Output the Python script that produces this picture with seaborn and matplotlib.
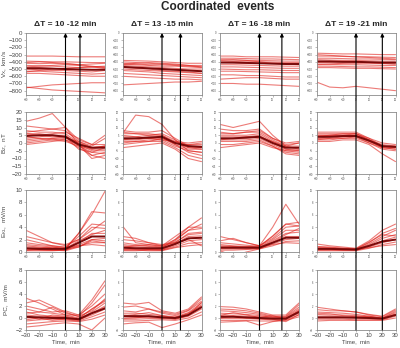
import matplotlib
matplotlib.use("Agg")
import matplotlib.pyplot as plt
import numpy as np
import pandas as pd
import seaborn as sns
from matplotlib.patches import ConnectionPatch

# ---------------- data ----------------
TIME = [-30, -20, -10, 0, 10, 20, 30]
COL_TITLES = ["ΔT = 10 -12 min", "ΔT = 13 -15 min", "ΔT = 16 -18 min", "ΔT = 19 -21 min"]
DT_MARK = [11, 14, 17, 20]
ROW_LABELS = ["V$_X$,  km/s", "B$_Z$,  nT", "E$_{KL}$,  mV/m", "PC,  mV/m"]
ROW_YLIM = [(-860, 0), (-20, 20), (0, 10), (-2, 8)]
ROW_YTICKS = [list(range(0, -801, -100)), list(range(-20, 21, 5)), list(range(0, 11, 2)), list(range(-2, 9, 2))]
XTICKS = [-30, -20, -10, 0, 10, 20, 30]

VX_1 = [[-320,-320,-320,-325,-330,-330,-330],[-390,-395,-400,-400,-405,-410,-410],
        [-420,-425,-420,-430,-440,-430,-420],[-450,-455,-460,-470,-480,-470,-460],
        [-480,-480,-490,-500,-510,-510,-500],[-500,-510,-520,-520,-530,-540,-520],
        [-530,-530,-540,-550,-560,-570,-560],[-560,-560,-570,-580,-590,-600,-600],
        [-410,-400,-410,-420,-440,-460,-480],[-470,-460,-450,-440,-450,-470,-490],
        [-760,-740,-720,-710,-700,-690,-690],[-750,-770,-790,-800,-810,-820,-830],
        [-540,-520,-500,-490,-480,-470,-470]]
VX_1_MEAN = [-490,-490,-495,-500,-505,-510,-510]
VX_2 = [[-380,-385,-390,-400,-410,-420,-420],[-400,-410,-420,-430,-440,-450,-450],
        [-430,-440,-450,-460,-460,-470,-480],[-450,-460,-470,-480,-490,-500,-500],
        [-470,-480,-490,-500,-510,-520,-530],[-500,-510,-520,-530,-540,-550,-560],
        [-520,-530,-540,-560,-570,-580,-590],[-560,-570,-580,-590,-600,-610,-620],
        [-420,-430,-440,-440,-450,-460,-470],[-600,-610,-620,-630,-640,-640,-650],
        [-720,-710,-700,-690,-680,-680,-670],[-440,-420,-410,-420,-430,-450,-470],
        [-480,-490,-500,-520,-530,-540,-560]]
VX_2_MEAN = [-470,-480,-490,-500,-510,-520,-530]
VX_3 = [[-320,-320,-330,-330,-330,-335,-340],[-350,-350,-355,-360,-360,-365,-370],
        [-370,-375,-380,-380,-385,-390,-390],[-390,-395,-400,-400,-405,-410,-410],
        [-410,-415,-420,-420,-425,-430,-430],[-440,-440,-445,-450,-455,-460,-460],
        [-470,-470,-475,-480,-485,-490,-490],[-500,-505,-510,-510,-515,-520,-520],
        [-530,-530,-535,-540,-545,-550,-550],[-580,-580,-590,-590,-600,-610,-610],
        [-640,-630,-620,-620,-630,-640,-640],[-700,-700,-710,-710,-720,-730,-740],
        [-380,-370,-380,-400,-420,-430,-440]]
VX_3_MEAN = [-410,-410,-415,-420,-425,-430,-430]
VX_4 = [[-280,-285,-290,-290,-295,-300,-300],[-320,-320,-325,-330,-330,-335,-340],
        [-350,-350,-355,-360,-360,-365,-370],[-370,-375,-380,-380,-385,-390,-390],
        [-390,-390,-395,-400,-405,-410,-410],[-410,-410,-415,-420,-420,-425,-430],
        [-430,-435,-440,-440,-445,-450,-450],[-460,-460,-465,-470,-470,-475,-480],
        [-480,-480,-485,-490,-490,-495,-500],[-680,-750,-760,-740,-760,-780,-800],
        [-300,-310,-320,-330,-340,-350,-360],[-440,-430,-420,-410,-410,-420,-430]]
VX_4_MEAN = [-395,-395,-400,-400,-405,-410,-410]

BZ_1 = [[14,16,19,10,-1,-8,-6],[11,10,9,8,1,-3,-2],[8,7,7,6,0,-4,-4],[6,6,5,5,-1,-5,-5],
        [5,5,4,4,-2,-6,-3],[3,4,5,4,0,-3,-2],[2,3,3,2,-3,-8,-10],[0,1,2,1,-2,-4,-2],
        [-1,0,1,2,-1,-10,-8],[7,8,9,10,2,-1,5],[4,3,2,3,1,-2,3],[1,2,3,4,-4,-6,-7],
        [6,5,6,7,3,-1,-1]]
BZ_1_MEAN = [4.5,5,5,4,-1,-3,-3]
BZ_2 = [[6,18,17,12,2,-5,-6],[8,7,7,8,3,-2,-3],[6,6,5,6,2,-3,-4],[4,4,5,5,1,-2,-2],
        [3,3,4,4,0,-3,-3],[2,2,3,3,-1,-4,-4],[1,1,2,2,-2,-5,-6],[-1,0,1,1,-3,-8,-10],
        [-3,-2,-1,0,-4,-10,-12],[5,4,3,2,1,0,1],[0,1,1,3,0,-1,-1],[2,3,3,4,-1,-6,-8],
        [7,6,6,5,0,-1,0]]
BZ_2_MEAN = [3,3,3.5,4,0,-2,-2.5]
BZ_3 = [[12,10,12,14,5,-2,-4],[9,8,8,9,3,-1,0],[7,6,7,7,2,-2,-2],[5,5,5,6,1,-3,-3],
        [4,4,4,5,0,-4,-4],[3,3,3,4,0,-4,-5],[2,2,2,3,-1,-5,-6],[1,1,1,2,-2,-6,-7],
        [-1,-1,0,1,-2,-7,-8],[-3,-2,-1,0,-3,-5,-5],[6,6,7,8,3,0,1],[2,3,4,4,1,-2,0]]
BZ_3_MEAN = [3,3,3.5,4,0,-3,-3]
BZ_4 = [[7,7,7,7,3,-2,-3],[6,6,6,6,2,-2,-3],[5,5,5,6,2,-3,-3],[4,5,5,5,1,-3,-4],
        [3,4,4,4,1,-2,-2],[2,3,3,4,0,-3,-4],[2,2,3,3,0,-4,-5],[1,1,2,2,-1,-7,-12],
        [5,5,6,6,3,0,-1],[3,3,4,5,2,-1,-2]]
BZ_4_MEAN = [4,4,4.5,4.5,1.5,-2,-2.5]

EKL_1 = [[0.5,0.5,0.4,0.5,3,6,9.8],[1,0.8,0.6,0.6,3,6.5,6.3],[2,1.5,1,0.7,2.5,4.5,4.3],
         [3.5,2.5,1.5,1,2,4,3.8],[0.3,0.3,0.3,0.4,1.5,3,3],[0.8,0.7,0.6,0.5,1.5,2.5,2.5],
         [0.2,0.2,0.2,0.3,1.2,2,1.8],[1.5,1.2,1,0.8,1,1.5,1.5],[0.5,0.4,0.3,0.3,1,1.2,1],
         [2.5,2,1.5,1.2,2,3.5,5],[0.3,0.5,0.8,0.6,1.8,2.8,3.5],[1.2,1,0.8,0.5,0.8,2,2.2],
         [0.6,0.4,0.3,0.2,0.8,1.8,1.5]]
EKL_1_MEAN = [0.6,0.5,0.5,0.5,1.5,2.5,2.5]
EKL_2 = [[4.2,1.5,1.2,1,2.5,4,5.5],[2.5,2.2,1.5,1,2,3.5,4.5],[1.5,1.2,1,0.8,1.8,3.5,3.8],
         [1,0.8,0.7,0.6,1.5,3,3.2],[0.7,0.6,0.5,0.5,1.3,2.5,2.6],[0.4,0.4,0.4,0.4,1.2,2.2,2.3],
         [0.2,0.2,0.3,0.3,1,1.8,2],[0.5,0.5,0.4,0.3,0.8,1.4,1.5],[2,1.8,1.5,1.2,1.5,2,1],
         [0.8,1,1.2,0.9,1.6,2.8,3],[0.3,0.3,0.2,0.2,0.7,1,1.2],[1.2,1,0.9,0.7,2,4,4]]
EKL_2_MEAN = [0.7,0.6,0.6,0.6,1.3,2.2,2.3]
EKL_3 = [[0.8,0.8,0.8,1,4,7.7,4.5],[2.5,2,1.5,1,2.5,4.5,4.8],[1.8,2.2,1.5,1,2.2,4,4.2],
         [1.2,1,0.9,0.8,2,3.5,3.5],[0.8,0.8,0.7,0.7,1.8,3,3.2],[0.5,0.5,0.5,0.6,1.5,2.5,2.5],
         [0.3,0.3,0.4,0.5,1.3,2,2.2],[0.2,-0.6,0,0.5,1,1.7,1.8],[1,0.9,0.8,0.7,1.2,1.5,1.4],
         [0.6,0.6,0.6,0.6,1.6,2.8,3.8],[1.5,1.3,1.1,0.9,2.6,4.5,4.2]]
EKL_3_MEAN = [0.7,0.7,0.7,0.7,1.5,2.3,2.3]
EKL_4 = [[1.3,1,0.8,0.6,1.8,3.5,4.5],[0.9,0.8,0.6,0.5,1.5,3,3.8],[0.7,0.6,0.5,0.4,1.3,2.5,3.5],
         [0.5,0.5,0.4,0.4,1.1,2.2,2.8],[0.4,0.4,0.3,0.3,0.9,1.8,2.4],[0.3,0.3,0.3,0.3,0.8,1.5,2],
         [0.2,0.2,0.2,0.2,0.6,1.2,1.6],[0.6,0.5,0.5,0.4,0.7,1,1.2],[0.8,0.7,0.6,0.5,1.6,2.8,2.6]]
EKL_4_MEAN = [0.5,0.5,0.45,0.4,1,1.7,2]

PC_1 = [[3.3,2.5,1.5,0.5,0.5,3,6.2],[2.5,3,2,1,0.2,2.5,5.5],[2,1.5,1,1.2,0.5,2,4],
        [1.5,1,0.8,0.5,0,1.5,3],[1,0.5,0.3,0.2,-0.2,1,2.5],[0.5,0.3,0.2,0,-0.3,0.8,2],
        [0,0.1,0,-0.1,-0.3,0.5,1.5],[-0.5,-0.3,-0.2,-0.3,-0.5,0.2,1],[-1,-0.8,-0.6,-0.5,-0.6,-0.2,0.5],
        [-1.5,-1.3,-1,-0.8,-1,-2,0],[0.8,1,1.8,0.8,0.3,1.2,3.2],[0.2,-0.2,0.5,0.3,-0.1,1.5,2.8],
        [-0.3,0,-0.4,-0.2,-0.4,0.8,1.8]]
PC_1_MEAN = [0.2,0.1,0,0,-0.2,0.8,1.6]
PC_2 = [[2.5,2.3,2.6,1.2,0.8,1.5,3.5],[1.8,2,1.5,1,0.6,1.3,3.2],[1.2,1,1.5,0.8,0.4,1.2,2.8],
        [0.8,0.8,0.6,0.4,0.2,0.9,2.5],[0.5,0.4,0.3,0.2,0.1,0.7,2.2],[0.2,0.1,0.1,0,0,0.5,1.8],
        [-0.2,-0.2,-0.1,-0.1,-0.2,0.3,1.5],[-0.5,-0.5,-0.4,-0.3,-0.4,0,1],[-1,-0.8,-0.7,-1.6,-1,-0.3,0.5],
        [0.3,0.6,0.9,0.4,0,0.8,2],[-0.1,0,0.3,0.2,-0.2,0.4,2.6]]
PC_2_MEAN = [0.3,0.3,0.3,0.1,0,0.5,1.8]
PC_3 = [[1.9,1.8,1.5,1,0.5,0.5,2.5],[1.5,1.4,1.2,0.8,0.3,0.3,2.2],[1.2,1.1,0.9,0.6,0.2,0.2,1.8],
        [0.8,0.7,0.6,0.4,0.1,0.1,1.5],[0.5,0.4,0.3,0.2,0,0,1.2],[0.2,0.2,0.1,0,-0.1,-0.1,1],
        [-0.1,-0.1,-0.1,-0.2,-0.3,-0.2,0.8],[-0.4,-0.4,-0.4,-0.5,-0.5,-0.3,0.5],
        [-0.7,-0.6,-0.5,-1.2,-0.6,-0.4,0.2],[0.4,0.9,0.5,0.1,0.4,-0.2,1.3],[0,0.3,0,-0.1,-0.2,-0.6,0.6]]
PC_3_MEAN = [0.2,0.2,0.1,0,-0.1,-0.1,1]
PC_4 = [[1.8,1.5,1.2,1,0.6,0.3,1.5],[1.4,1.2,1.2,1,0.5,0.2,1.3],[1,0.9,0.8,0.6,0.3,0,1.1],
        [0.6,0.5,0.5,0.4,0.2,0,0.9],[0.3,0.3,0.2,0.2,0.1,-0.1,0.7],[0,0,0,0,-0.1,-0.2,0.5],
        [-0.2,-0.2,-0.2,-0.3,-0.3,-0.3,0.3],[-0.5,-0.4,-0.4,-0.4,-0.4,-0.4,0],
        [0.8,0.7,0.4,0.2,0.3,-0.1,0.6]]
PC_4_MEAN = [0.1,0.1,0.1,0.05,0,-0.1,0.5]

PANELS = [
    [(VX_1, VX_1_MEAN), (VX_2, VX_2_MEAN), (VX_3, VX_3_MEAN), (VX_4, VX_4_MEAN)],
    [(BZ_1, BZ_1_MEAN), (BZ_2, BZ_2_MEAN), (BZ_3, BZ_3_MEAN), (BZ_4, BZ_4_MEAN)],
    [(EKL_1, EKL_1_MEAN), (EKL_2, EKL_2_MEAN), (EKL_3, EKL_3_MEAN), (EKL_4, EKL_4_MEAN)],
    [(PC_1, PC_1_MEAN), (PC_2, PC_2_MEAN), (PC_3, PC_3_MEAN), (PC_4, PC_4_MEAN)],
]

# ---------------- style ----------------
sns.set_theme(style="ticks")
plt.rcParams["font.family"] = ["Liberation Sans", "DejaVu Sans"]
plt.rcParams["mathtext.default"] = "regular"

W, H = 400, 348
fig = plt.figure(figsize=(W / 100, H / 100), dpi=100)

lefts = [26, 122.5, 220, 316.5]
width = 79
tops = [33, 112, 190, 270]
heights = [62, 62, 62, 60]

LINE_RED = "#e0241e"
MEAN_RED = "#7a0a0a"
SPINE = "#8a8a8a"

axes = [[None] * 4 for _ in range(4)]
for r in range(4):
    for c in range(4):
        ax = fig.add_axes([lefts[c] / W, 1 - (tops[r] + heights[r]) / H, width / W, heights[r] / H])
        axes[r][c] = ax
        lines, mean = PANELS[r][c]
        rows = []
        for i, ln in enumerate(lines):
            for t, v in zip(TIME, ln):
                rows.append({"t": t, "v": v, "id": i})
        df = pd.DataFrame(rows)
        sns.lineplot(data=df, x="t", y="v", units="id", estimator=None, color=LINE_RED,
                     alpha=0.6, lw=0.8, ax=ax, legend=False)
        dm = pd.DataFrame({"t": TIME, "v": mean})
        sns.lineplot(data=dm, x="t", y="v", color=MEAN_RED, lw=1.4, ax=ax, legend=False)
        ax.set_xlim(-30, 30)
        ax.set_ylim(*ROW_YLIM[r])
        ax.set_xticks(XTICKS)
        ax.set_yticks(ROW_YTICKS[r])
        for s in ax.spines.values():
            s.set_color(SPINE)
            s.set_linewidth(0.6)
        ax.tick_params(length=1.5, width=0.4, color=SPINE, pad=1, labelcolor="#444444")
        xfs = 4.3 if r == 3 else 1.8
        yfs = 4.4 if c == 0 else 1.8
        ax.tick_params(axis="x", labelsize=xfs, pad=0.8)
        ax.tick_params(axis="y", labelsize=yfs)
        ax.set_xlabel("Time,  min" if r == 3 else "", fontsize=4.3, color="#444444", labelpad=1)
        ax.set_ylabel(ROW_LABELS[r] if c == 0 else "", fontsize=4.6, color="#444444")
        if c == 0:
            ax.yaxis.set_label_coords(-0.22, 0.5)
        if r == 0:
            ax.set_title(COL_TITLES[c], fontsize=6.0, fontweight="bold", pad=5)

# vertical arrows at t = 0 and t = dT
for c in range(4):
    for t in (0, DT_MARK[c]):
        con = ConnectionPatch(xyA=(t, ROW_YLIM[3][0]), coordsA=axes[3][c].transData,
                              xyB=(t, ROW_YLIM[0][1]), coordsB=axes[0][c].transData,
                              arrowstyle="-|>", mutation_scale=5, lw=0.8, color="black",
                              shrinkA=0, shrinkB=0, zorder=10)
        fig.add_artist(con)

fig.text(218 / W, 1 - 7 / H, "Coordinated  events", ha="center", va="center",
         fontsize=8.5, fontweight="bold")

fig.savefig("out.png", dpi=100)
